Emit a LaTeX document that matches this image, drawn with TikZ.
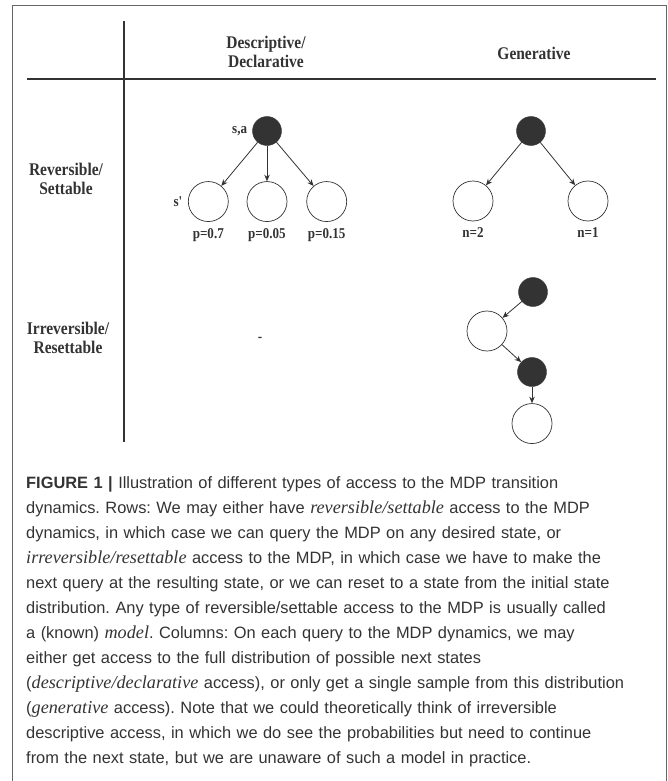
\documentclass[tikz,border=0pt]{standalone}
\usepackage{fontspec}
\setmainfont{Liberation Serif}
\newfontfamily\capsans{Liberation Sans}
\newfontfamily\tallserif[FakeStretch=0.87]{Liberation Serif}
\usetikzlibrary{positioning,arrows.meta}
\definecolor{dgray}{HTML}{333333}
\definecolor{bgray}{HTML}{666666}
\newcommand\emword[1]{{\rmfamily\itshape\fontsize{18.2}{25}\selectfont #1}}

\begin{document}
\begin{tikzpicture}[x=1pt,y=-1pt,
    blk/.style={circle,draw=dgray,fill=dgray,minimum size=29pt,inner sep=0pt},
    wht/.style={circle,draw=dgray,line width=0.7pt,minimum size=40pt,inner sep=0pt},
    lbl/.style={font=\tallserif\fontsize{15}{18}\selectfont\bfseries,inner sep=0pt,text=dgray},
    head/.style={font=\tallserif\fontsize{17.8}{19}\selectfont\bfseries,align=center,inner sep=0pt,text=dgray},
    arr/.style={-{Stealth[length=6.5pt,width=5.5pt]},dgray,line width=0.8pt},
    captxt/.style={anchor=base west,text width=700pt,align=left,inner sep=0pt,
        font=\capsans\frenchspacing\fontsize{16.4}{25}\selectfont,text=dgray}]
    \useasboundingbox (0,0) rectangle (667,781);
    % frame and table
    \draw[bgray,line width=1pt] (12,781) -- (12,6) -- (666,6) -- (666,781);
    \draw[dgray,line width=1.6pt] (124,21) -- (124,442);
    \draw[dgray,line width=1.6pt] (27,79) -- (656,79);
    % headers
    \node[head] (hdesc) at (266,52) {Descriptive/\\Declarative};
    \node[head] (hgen) at (534,53) {Generative};
    \node[head] (hrev) at (66,179) {Reversible/\\Settable};
    \node[head] (hirr) at (68,338) {Irreversible/\\Resettable};
    % descriptive tree
    \node[blk] (sa) at (267,131) {};
    \node[wht] (d_2) [below=35.5pt of sa] {};
    \node[wht] (d_1) [left=18pt of d_2] {};
    \node[wht] (d_3) [right=19pt of d_2] {};
    \node[lbl] (l_sa) [left=5pt of sa] {s,a};
    \node[lbl] (l_s) [left=5pt of d_1] {s\textquotesingle};
    \node[lbl] (p_1) [below=6pt of d_1] {p=0.7};
    \node[lbl] (p_2) [below=6pt of d_2] {p=0.05};
    \node[lbl] (p_3) [below=6pt of d_3] {p=0.15};
    \path[arr]
    (sa) edge (d_1)
    (sa) edge (d_2)
    (sa) edge (d_3);
    % generative tree
    \node[blk] (g) at (531,131) {};
    \node[wht] (g_1) at (473,201) {};
    \node[wht] (g_2) at (588,201) {};
    \node[lbl] (n_1) [below=6pt of g_1] {n=2};
    \node[lbl] (n_2) [below=6pt of g_2] {n=1};
    \path[arr]
    (g) edge (g_1)
    (g) edge (g_2);
    % irreversible
    \node[lbl] (none) at (260,339) {-};
    \node[blk] (r_1) at (533,292) {};
    \node[wht] (r_2) at (487,331) {};
    \node[blk] (r_3) at (532,372) {};
    \node[wht] (r_4) [below=16.5pt of r_3] {};
    \path[arr]
    (r_1) edge (r_2)
    (r_2) edge (r_3)
    (r_3) edge (r_4);
    % caption
    \node[captxt] (cap) at (26,488) {{\bfseries FIGURE 1 |} Illustration of different types of access to the MDP transition\\
    dynamics. Rows: We may either have \emword{reversible/settable} access to the MDP\\
    dynamics, in which case we can query the MDP on any desired state, or\\
    \emword{irreversible/resettable} access to the MDP, in which case we have to make the\\
    next query at the resulting state, or we can reset to a state from the initial state\\
    distribution. Any type of reversible/settable access to the MDP is usually called\\
    a (known) \emword{model}. Columns: On each query to the MDP dynamics, we may\\
    either get access to the full distribution of possible next states\\
    (\emword{descriptive/declarative} access), or only get a single sample from this distribution\\
    (\emword{generative} access). Note that we could theoretically think of irreversible\\
    descriptive access, in which we do see the probabilities but need to continue\\
    from the next state, but we are unaware of such a model in practice.};
\end{tikzpicture}
\end{document}
